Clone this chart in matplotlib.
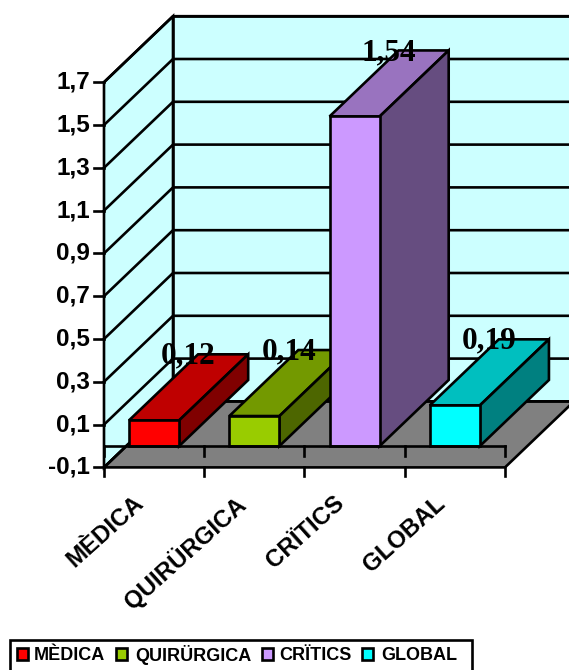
import matplotlib
matplotlib.use('Agg')
import matplotlib.pyplot as plt
from matplotlib.patches import Polygon, Rectangle

# Datos del grafico
categorias = ['MÈDICA', 'QUIRÜRGICA', 'CRÏTICS', 'GLOBAL']
valores = [0.12, 0.14, 1.54, 0.19]
etiquetas = ['0,12', '0,14', '1,54', '0,19']
ticks_y = [-0.1, 0.1, 0.3, 0.5, 0.7, 0.9, 1.1, 1.3, 1.5, 1.7]
ticks_y_txt = ['-0,1', '0,1', '0,3', '0,5', '0,7', '0,9', '1,1', '1,3', '1,5', '1,7']

col_frente = ['#FF0000', '#99CC00', '#CC99FF', '#00FFFF']
col_techo = ['#BF0000', '#739900', '#9973BF', '#00BFBF']
col_lado = ['#800000', '#4D6600', '#664D80', '#008080']

ANCHO, ALTO = 569, 670
PX_X, PX_Y = 100.25, 214.0      # pixeles por categoria / por unidad
X0, Y0 = 104, 446               # origen del eje en pixeles
DX, DY = 69 / PX_X, 66 / PX_Y   # desplazamiento de profundidad
LW = 1.9
ANCHO_BARRA = 0.5

fig = plt.figure(figsize=(ANCHO / 100, ALTO / 100), dpi=100)
ax = fig.add_axes([0, 0, 1, 1])
ax.set_xlim(-X0 / PX_X, (ANCHO - X0) / PX_X)
ax.set_ylim(-(ALTO - Y0) / PX_Y, Y0 / PX_Y)
ax.axis('off')

ymin, ymax = ticks_y[0], ticks_y[-1]
n = len(categorias)


def poligono(puntos, color, z):
    ax.add_patch(Polygon(puntos, closed=True, facecolor=color, edgecolor='black',
                         linewidth=LW, joinstyle='miter', zorder=z))


# Paredes y suelo
poligono([(0, ymin), (DX, ymin + DY), (DX, ymax + DY), (0, ymax)], '#CCFFFF', 1)
poligono([(DX, ymin + DY), (n + DX, ymin + DY), (n + DX, ymax + DY), (DX, ymax + DY)], '#CCFFFF', 1)
poligono([(0, ymin), (n, ymin), (n + DX, ymin + DY), (DX, ymin + DY)], '#808080', 2)

# Rejilla y marcas del eje Y
for t, txt in zip(ticks_y, ticks_y_txt):
    ax.plot([0, DX, n + DX], [t, t + DY, t + DY], color='black', lw=LW, zorder=3)
    ax.plot([-10 / PX_X, 0], [t, t], color='black', lw=LW, zorder=3)
    ax.text(-14 / PX_X, t, txt, ha='right', va='center', fontsize=17.5,
            fontweight='bold', family='Liberation Sans', zorder=6)

# Eje de categorias a la altura del cero, y marcas del borde del suelo
ax.plot([0, n], [0, 0], color='black', lw=LW, zorder=5)
for i in range(n + 1):
    ax.plot([i, i], [0, -10 / PX_Y], color='black', lw=LW, zorder=5)
    ax.plot([i, i], [ymin, ymin - 9 / PX_Y], color='black', lw=LW, zorder=5)

# Barras
for i, v in enumerate(valores):
    x1 = i + 0.5 - ANCHO_BARRA / 2
    x2 = x1 + ANCHO_BARRA
    poligono([(x1, v), (x2, v), (x2 + DX, v + DY), (x1 + DX, v + DY)], col_techo[i], 4)
    poligono([(x2, 0), (x2 + DX, DY), (x2 + DX, v + DY), (x2, v)], col_lado[i], 4)
    poligono([(x1, 0), (x2, 0), (x2, v), (x1, v)], col_frente[i], 4)
    ax.text(i + 0.5 + DX / 2, v + DY - 2 / PX_Y, etiquetas[i], ha='center', va='center',
            fontsize=22.5, fontweight='bold', family='Liberation Serif', zorder=7)

# Etiquetas de categoria giradas
for i, c in enumerate(categorias):
    ax.text(i + 0.5 - 21 / PX_X, ymin - 24 / PX_Y, c, rotation=42, rotation_mode='anchor',
            ha='right', va='top', fontsize=17.3, fontweight='bold',
            family='Liberation Sans', zorder=6)

# Leyenda en coordenadas de pixel
ley = fig.add_axes([0, 0, 1, 1])
ley.set_xlim(0, ANCHO)
ley.set_ylim(ALTO, 0)
ley.axis('off')
ley.add_patch(Rectangle((10, 640), 462, 40, facecolor='white', edgecolor='black', linewidth=LW))
cuadros_x = [17, 116, 262, 362]
textos_x = [34, 135, 279, 381]
for c, col, xc, xt in zip(categorias, col_frente, cuadros_x, textos_x):
    ley.add_patch(Rectangle((xc, 648), 11, 12, facecolor=col, edgecolor='black', linewidth=LW))
    ley.text(xt, 655, c, ha='left', va='center', fontsize=13, fontweight='bold',
             family='Liberation Sans')

fig.savefig('out.png', dpi=100)
